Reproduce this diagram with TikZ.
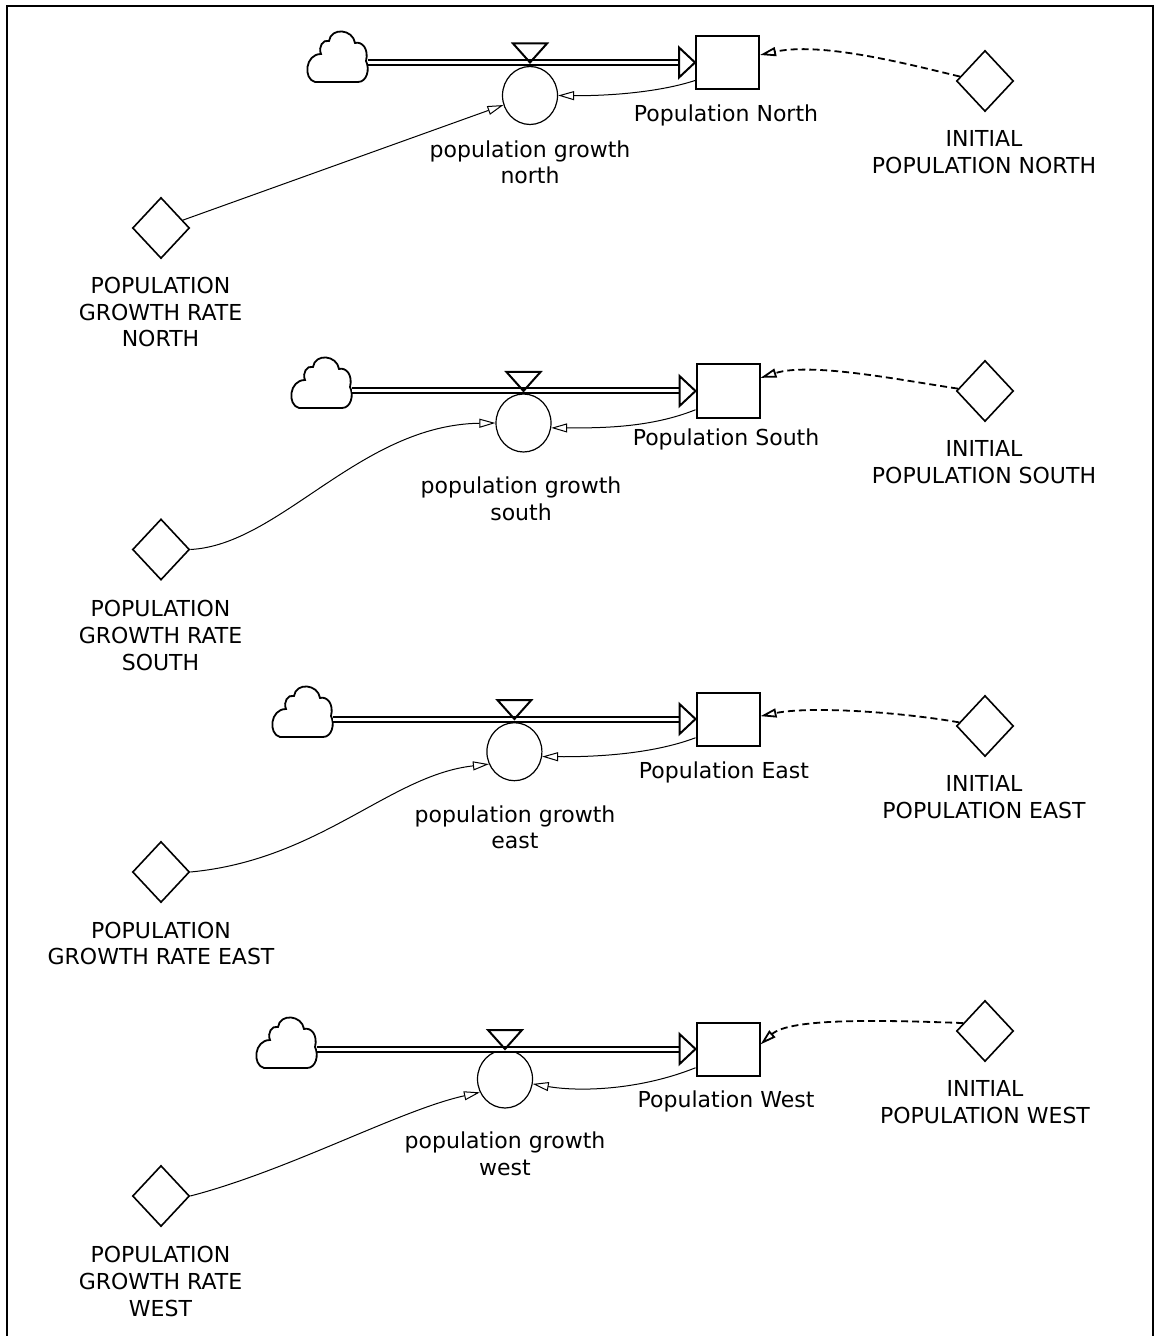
\documentclass[tikz,border=0pt]{standalone}
\usepackage{fontspec}
\setmainfont{DejaVu Sans}
\usetikzlibrary{arrows.meta,shapes.geometric}
\tikzset{
  stock/.style={draw, line width=1pt, minimum width=31.5pt, minimum height=26.5pt, inner sep=0pt},
  flowvar/.style={ellipse, draw, line width=0.6pt, minimum width=27.5pt, minimum height=29pt, inner sep=0pt},
  const/.style={diamond, draw, line width=0.8pt, minimum width=28.5pt, minimum height=30.5pt, inner sep=0pt},
  source/.style={minimum width=30.5pt, minimum height=25.5pt, inner sep=0pt},
  txt/.style={anchor=north, align=center, inner sep=0pt, font=\fontsize{11}{13.35}\selectfont},
  pipe/.style={double, line width=1pt, double distance=1.5pt},
  pipetip/.style={line width=1pt, fill=white},
  valve/.style={line width=1pt},
  link/.style={line width=0.5pt, -{Triangle[open, length=8pt, width=4.5pt]}},
  initlink/.style={line width=0.9pt, dash pattern=on 3.5pt off 2pt, -{Triangle[open, length=8pt, width=4.5pt]}}
}
\def\drawCloud#1{
\begin{scope}[shift={(#1.center)}]
\draw[line width=0.9pt] (-22,25) -- (21,25) .. controls (30,25) and (33,12) .. (29,4) .. controls (32,-8) and (25,-16) .. (18,-14) .. controls (16,-28) and (-6,-30) .. (-8,-16) .. controls (-14,-18) and (-19,-10) .. (-16,-3) .. controls (-32,-3) and (-34,22) .. (-22,25) -- cycle;
\end{scope}
}
\def\drawPipe#1#2#3{
\drawCloud{#1}
\draw[pipe] (#1.east |- #2.west) -- ([xshift=-8pt]#2.west);
\draw[pipetip] (#2.west) -- ++(-8pt,7.5pt) -- ++(0,-15pt) -- cycle;
\draw[valve] (#3.north |- #2.west) -- ++(-8.5pt,9.5pt) -- ++(17pt,0) -- cycle;
}
\begin{document}
\begin{tikzpicture}[x=0.5pt,y=-0.5pt]
	\useasboundingbox (0,0) rectangle (1157,1336);
	\draw[line width=1pt] (7,1350) -- (7,6) -- (1153,6) -- (1153,1350);

	\node[source] (cloudN) at (337,57) {};
	\node[flowvar] (growN) at (530,95.5) {};
	\node[stock] (popN) at (727.5,62.5) {};
	\node[const] (rateN) at (161,228) {};
	\node[const] (initN) at (985,81) {};
	\node[txt] (popNlab) at (726,104.5) {Population North};
	\node[txt] (growNlab) at (530,140) {population growth\\north};
	\node[txt] (initNlab) at (984,130) {INITIAL\\POPULATION NORTH};
	\node[txt] (rateNlab) at (160.5,276.7) {POPULATION\\GROWTH RATE\\NORTH};
	\drawPipe{cloudN}{popN}{growN}
	\draw[link] (popN.209) .. controls (660,92) and (610,96) .. (growN.east);
	\draw[link] (rateN) -- (growN);
	\draw[initlink] (initN.170) .. controls (900,62) and (820,42) .. (popN.13);

	\node[source] (cloudS) at (321,383) {};
	\node[flowvar] (growS) at (523.5,423) {};
	\node[stock] (popS) at (728,391) {};
	\node[const] (rateS) at (161,549.5) {};
	\node[const] (initS) at (985,391) {};
	\node[txt] (popSlab) at (726,428) {Population South};
	\node[txt] (growSlab) at (521,476.7) {population growth\\south};
	\node[txt] (initSlab) at (984,440.5) {INITIAL\\POPULATION SOUTH};
	\node[txt] (rateSlab) at (160.5,600) {POPULATION\\GROWTH RATE\\SOUTH};
	\drawPipe{cloudS}{popS}{growS}
	\draw[link] (popS.210) .. controls (650,428) and (600,428) .. (growS.-10);
	\draw[link] (rateS.east) .. controls (280,545) and (360,425) .. (growS.west);
	\draw[initlink] (initS.175) .. controls (900,380) and (810,362) .. (popS.22);

	\node[source] (cloudE) at (302,712) {};
	\node[flowvar] (growE) at (514.4,751.7) {};
	\node[stock] (popE) at (728,719) {};
	\node[const] (rateE) at (161,872) {};
	\node[const] (initE) at (985,726) {};
	\node[txt] (popElab) at (724,761.7) {Population East};
	\node[txt] (growElab) at (515,805) {population growth\\east};
	\node[txt] (initElab) at (984,775) {INITIAL\\POPULATION EAST};
	\node[txt] (rateElab) at (161,921.5) {POPULATION\\GROWTH RATE EAST};
	\drawPipe{cloudE}{popE}{growE}
	\draw[link] (popE.210) .. controls (650,755) and (590,757) .. (growE.-10);
	\draw[link] (rateE.east) .. controls (320,860) and (390,775) .. (growE.206);
	\draw[initlink] (initE.172) .. controls (900,712) and (810,706) .. (popE.5);

	\node[source] (cloudW) at (286,1043) {};
	\node[flowvar] (growW) at (505,1079) {};
	\node[stock] (popW) at (728,1049) {};
	\node[const] (rateW) at (161,1196) {};
	\node[const] (initW) at (985,1031) {};
	\node[txt] (popWlab) at (726,1090) {Population West};
	\node[txt] (growWlab) at (505,1131.7) {population growth\\west};
	\node[txt] (initWlab) at (985,1080) {INITIAL\\POPULATION WEST};
	\node[txt] (rateWlab) at (160.5,1246) {POPULATION\\GROWTH RATE\\WEST};
	\drawPipe{cloudW}{popW}{growW}
	\draw[link] (popW.210) .. controls (640,1090) and (580,1092) .. (growW.-10);
	\draw[link] (rateW.east) .. controls (290,1170) and (400,1110) .. (growW.208);
	\draw[initlink] (initW.160) .. controls (880,1020) and (790,1018) .. (popW.8);
\end{tikzpicture}
\end{document}
